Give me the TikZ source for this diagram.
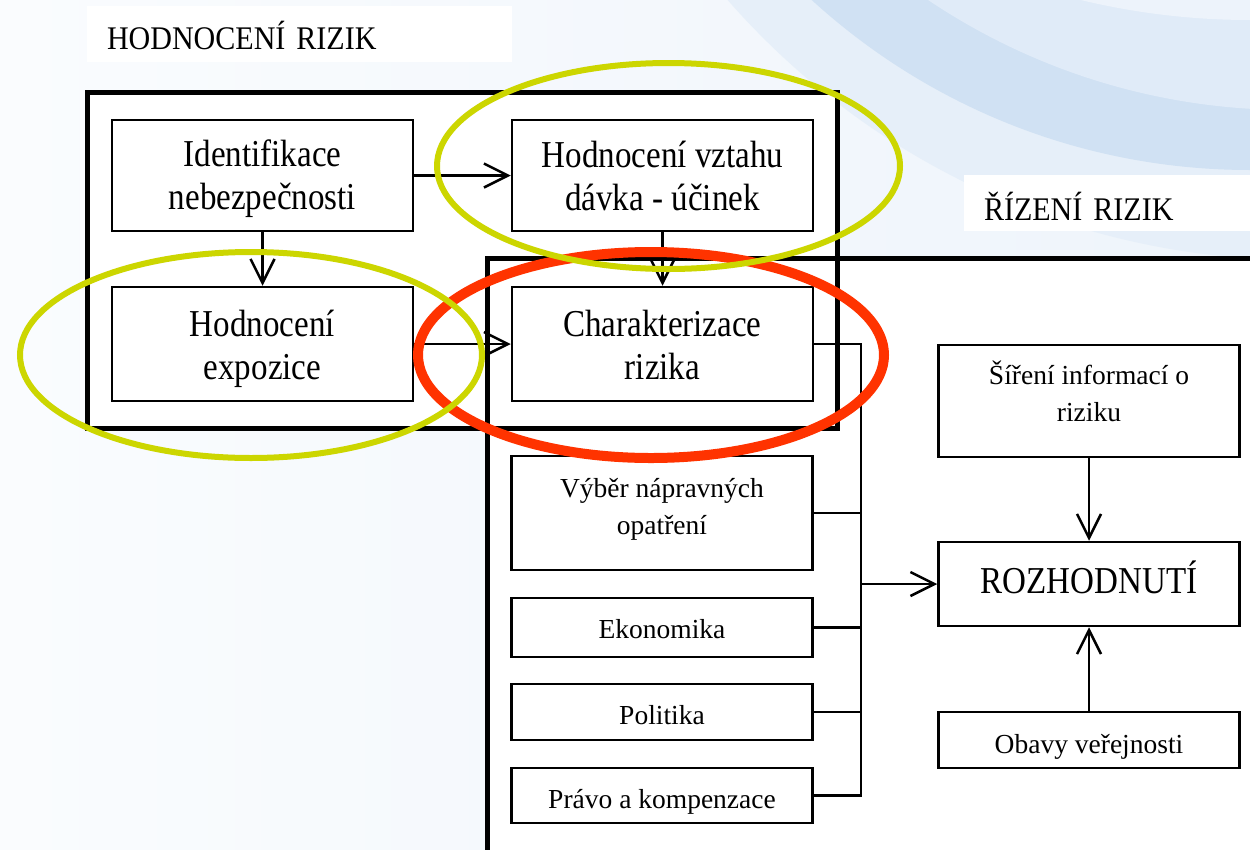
\documentclass[tikz,border=0pt]{standalone}
\usepackage{fontspec}
\setmainfont{Liberation Serif}
\newfontfamily\bigf[FakeStretch=0.87]{Liberation Serif}
\newfontfamily\titf[FakeStretch=0.91]{Liberation Serif}
\usetikzlibrary{arrows.meta}
\definecolor{ygreen}{RGB}{204,214,0}
\definecolor{hred}{RGB}{255,51,0}
\definecolor{bgL}{RGB}{250,252,254}
\definecolor{bgR}{RGB}{238,244,251}
\definecolor{swO}{RGB}{230,239,249}
\definecolor{swA}{RGB}{208,225,243}
\definecolor{swB}{RGB}{224,235,248}
\definecolor{swC}{RGB}{237,243,251}
\newcommand\tup[1]{\rule{0pt}{#1}}
\newcommand\tdn[1]{\rule[-#1]{0pt}{#1}}
\begin{document}
\begin{tikzpicture}[x=1pt,y=-1pt,
  box/.style={draw=black, line width=2.5pt, fill=white, rectangle, inner sep=0pt, align=center, minimum width=301pt},
  bigt/.style={font=\bigf\fontsize{38}{43}\selectfont},
  smallt/.style={font=\fontsize{27.5}{37}\selectfont},
  titlebox/.style={fill=white, inner xsep=20pt, inner ysep=0pt, align=left, font=\titf\fontsize{33}{36}\selectfont},
  frame/.style={draw=black, line width=5pt},
  conn/.style={draw=black, line width=2.5pt},
  arr/.style={conn, -{Straight Barb[length=24pt,width=24pt]}},
  ring/.style={draw=ygreen, line width=6pt},
  redring/.style={draw=hred, line width=10pt}]
\useasboundingbox (0,0) rectangle (1250,849);
\clip (0,0) rectangle (1250,849);
% background
\shade[left color=bgL, right color=bgR] (0,0) rectangle (1250,849);
\fill[swO] (1300,-500) circle[radius=760pt];
\fill[swA] (1250,-480) circle[radius=650pt];
\fill[swB] (1290,-540) circle[radius=650pt];
\fill[swC] (1250,-700) circle[radius=720pt];
% titles
\node[titlebox, minimum height=56pt, text width=385pt] (t1) at (299.5,34) {\tup{32pt}HODNOCENÍ RIZIK};
\node[titlebox, minimum height=56pt, text width=256pt] (t2) at (1112,203) {\tup{34pt}ŘÍZENÍ RIZIK};
% frames
\fill[white] (487,258) rectangle (1275,880);
\fill[white] (87,92) rectangle (837,428);
\draw[frame] (487,258) rectangle (1275,880);
\draw[frame] (87,92) rectangle (837,428);
% boxes
\node[box, bigt, minimum height=111pt] (ident) at (262.5,175.5) {\tup{34pt}Identifikace\\nebezpečnosti};
\node[box, bigt, minimum height=111pt] (davka) at (662.5,175.5) {Hodnocení vztahu\\dávka - účinek};
\node[box, bigt, minimum height=114pt] (expo) at (262.5,344) {\tup{37pt}Hodnocení\\expozice};
\node[box, bigt, minimum height=114pt] (charak) at (662.5,344) {\tup{29pt}Charakterizace\\rizika};
\node[box, smallt, minimum height=114pt] (vyber) at (662,513) {Výběr nápravných\\opatření\tdn{14pt}};
\node[box, smallt, minimum height=59pt] (ekon) at (662,627.5) {\tup{23pt}Ekonomika};
\node[box, smallt, minimum height=56pt] (polit) at (662,712) {\tup{26pt}Politika};
\node[box, smallt, minimum height=55pt] (pravo) at (662,795.5) {\tup{31pt}Právo a kompenzace};
\node[box, smallt, minimum height=112pt] (sireni) at (1089,401) {Šíření informací o\\riziku\tdn{19.5pt}};
\node[box, bigt, minimum height=84pt, text height=18pt, text depth=0pt] (rozh) at (1089,584) {ROZHODNUTÍ};
\node[box, smallt, minimum height=56pt] (obavy) at (1089,740) {\tup{32pt}Obavy veřejnosti};
% connectors
\draw[arr] (ident.east) -- (davka.west);
\draw[arr] (ident.south) -- (expo.north);
\draw[arr] (davka.south) -- (charak.north);
\draw[arr] (expo.east) -- (charak.west);
\coordinate (bt) at (861,344);
\draw[conn] (charak.east) -- (charak.east -| bt) -- (pravo.east -| bt) -- (pravo.east);
\foreach \n in {vyber,ekon,polit} \draw[conn] (\n.east) -- (\n.east -| bt);
\draw[arr] (rozh.west -| bt) -- (rozh.west);
\draw[arr] (sireni.south) -- (rozh.north);
\draw[arr] (obavy.north) -- (rozh.south);
% highlight ellipses
\draw[redring] (651,355) ellipse[x radius=233pt, y radius=103pt];
\draw[ring] (668.5,166) ellipse[x radius=231.5pt, y radius=103pt];
\draw[ring] (251,355) ellipse[x radius=231pt, y radius=103pt];
\end{tikzpicture}
\end{document}
